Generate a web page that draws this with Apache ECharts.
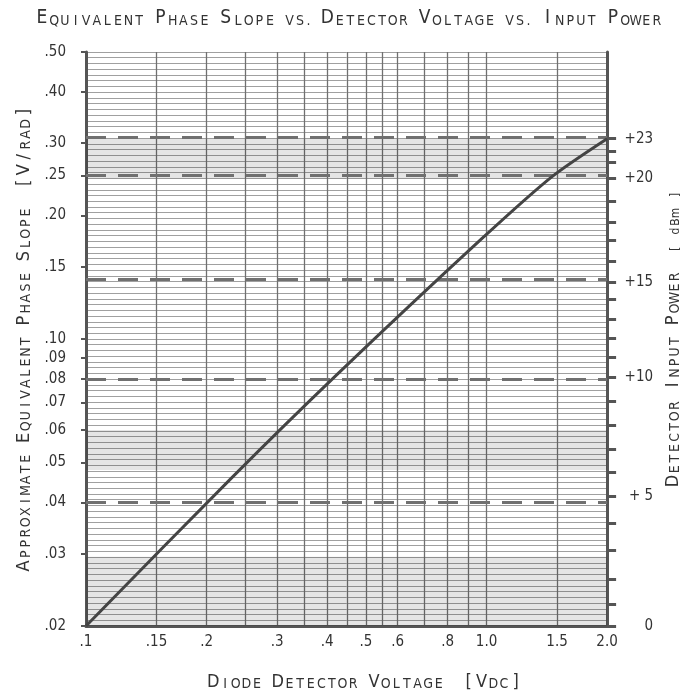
<!DOCTYPE html>
<html><head><meta charset="utf-8">
<script src="https://cdn.jsdelivr.net/npm/echarts@6/dist/echarts.min.js"></script>
<style>html,body{margin:0;padding:0;background:#fff}#c{width:690px;height:696px}</style>
</head><body><div id="c"></div>
<script>
// ---- data ----
const xTickValues = [0.1, 0.15, 0.2, 0.3, 0.4, 0.5, 0.6, 0.8, 1.0, 1.5, 2.0];
const xTickLabels = ['.1', '.15', '.2', '.3', '.4', '.5', '.6', '.8', '1.0', '1.5', '2.0'];
const xGridValues = [0.1, 0.15, 0.2, 0.25, 0.3, 0.35, 0.4, 0.45, 0.5, 0.55, 0.6, 0.7, 0.8, 0.9, 1.0, 1.5, 2.0];
const yTickValues = [0.02, 0.03, 0.04, 0.05, 0.06, 0.07, 0.08, 0.09, 0.10, 0.15, 0.20, 0.25, 0.30, 0.40, 0.50];
const yTickLabels = ['.02', '.03', '.04', '.05', '.06', '.07', '.08', '.09', '.10', '.15', '.20', '.25', '.30', '.40', '.50'];
const dbmValues = [0, 1, 2, 3, 4, 5, 6, 7, 8, 9, 10, 11, 12, 13, 14, 15, 16, 17, 18, 19, 20, 21, 22, 23];
const dbmSlope = [0.0200, 0.0226, 0.0260, 0.0306, 0.0356, 0.0414, 0.0473, 0.0538, 0.0615, 0.0707, 0.0809, 0.0905,
                  0.1006, 0.1118, 0.1251, 0.1376, 0.1547, 0.1739, 0.1923, 0.2162, 0.2460, 0.2690, 0.2860, 0.3076];
const dbmLabelled = [0, 5, 10, 15, 20, 23];
const dbmLabels = ['0', '+ 5', '+10', '+15', '+20', '+23'];
const dashedDbm = [5, 10, 15, 20, 23];
const curveVoltage = [0.1, 0.23, 0.425, 0.97, 1.46, 2.0];
const curveSlope = [0.02, 0.0457, 0.0822, 0.175, 0.249, 0.3076];
const shadedBands = [[0.246, 0.3076], [0.048, 0.060], [0.020, 0.0295]];

// ---- helpers ----
const FONT = "'DejaVu Sans Condensed','Liberation Sans Narrow',sans-serif";
// small-caps lettering: one token per character so the lettering keeps its wide, even spacing
function lettering(text) {
  let out = '';
  for (const ch of text) {
    if (ch === ' ') out += '{w| }';
    else if (ch === '.') out += '{p|.}';
    else if (/[A-Z\[\]\/]/.test(ch)) out += '{b|' + ch + '}';
    else out += '{s|' + ch.toUpperCase() + '}';
  }
  return out;
}
function plain(text, style) {
  let out = '';
  for (const ch of text) out += '{' + style + '|' + ch + '}';
  return out;
}
function letterStyle(big, small, advB, advS, advW) {
  const lh = big + 4;
  return {
    b: { fontSize: big, fontFamily: FONT, color: '#333', width: advB, align: 'center', lineHeight: lh, verticalAlign: 'bottom' },
    s: { fontSize: small, fontFamily: FONT, color: '#333', width: advS, align: 'center', lineHeight: lh, verticalAlign: 'bottom' },
    p: { fontSize: small, fontFamily: FONT, color: '#333', width: 6, align: 'center', lineHeight: lh, verticalAlign: 'bottom' },
    w: { fontSize: small, fontFamily: FONT, width: advW, lineHeight: lh, verticalAlign: 'bottom' },
    m: { fontSize: 12, fontFamily: FONT, color: '#333', width: 9, align: 'center', lineHeight: lh, verticalAlign: 'bottom' }
  };
}
function nearestLabel(v, vals, labels) {
  let best = 0, bd = Infinity;
  vals.forEach((x, i) => { const d = Math.abs(Math.log(v) - Math.log(x)); if (d < bd) { bd = d; best = i; } });
  return labels[best];
}

const chart = echarts.init(document.getElementById('c'), null, { renderer: 'canvas' });
const labelStyle = { fontFamily: FONT, fontSize: 15, color: '#333' };
const labelledSlopes = dbmLabelled.map(d => dbmSlope[d]);

const option = {
  animation: false,
  backgroundColor: '#fff',
  title: {
    text: lettering('Equivalent Phase Slope vs. Detector Voltage vs. Input Power'),
    left: 30, top: 0,
    textStyle: { fontWeight: 'normal', rich: letterStyle(19, 14, 14, 10.6, 9) }
  },
  grid: { left: 86, right: 78, top: 52, bottom: 68 },
  xAxis: [{
    type: 'log', logBase: 10, min: 0.1, max: 2.0,
    axisLine: { show: true, lineStyle: { color: '#555', width: 3 } },
    axisTick: { show: false, customValues: xGridValues },
    axisLabel: { customValues: xTickValues, margin: 9, ...labelStyle,
      formatter: v => nearestLabel(v, xTickValues, xTickLabels) },
    splitLine: { show: true, lineStyle: { color: '#707070', width: 1.3 } },
    name: lettering('Diode Detector Voltage') + '{w| }{w| }' + lettering('[Vdc]'),
    nameLocation: 'middle', nameGap: 43,
    nameTextStyle: { rich: letterStyle(18, 14, 13, 10.6, 9), padding: [0, 0, 0, 36] }
  }],
  yAxis: [{
    type: 'log', logBase: 10, min: 0.02, max: 0.5, position: 'left',
    axisLine: { show: true, lineStyle: { color: '#555', width: 3 } },
    axisTick: { show: true, customValues: yTickValues, length: 5, lineStyle: { color: '#555', width: 2 } },
    axisLabel: { customValues: yTickValues, margin: 20, ...labelStyle,
      formatter: v => nearestLabel(v, yTickValues, yTickLabels) },
    splitLine: { show: false },
    name: lettering('Approximate Equivalent Phase Slope') + '{w| }{w| }' + lettering('[V/rad]'),
    nameLocation: 'middle', nameGap: 41, nameRotate: 90,
    nameTextStyle: { rich: letterStyle(18, 14, 13, 10.6, 9) }
  }, {
    type: 'log', logBase: 10, min: 0.02, max: 0.5, position: 'right',
    axisLine: { show: true, lineStyle: { color: '#555', width: 3 } },
    axisTick: { show: true, customValues: dbmSlope, length: 9, lineStyle: { color: '#555', width: 3 } },
    axisLabel: { customValues: labelledSlopes, margin: 46, align: 'right', ...labelStyle,
      formatter: v => nearestLabel(v, labelledSlopes, dbmLabels) },
    splitLine: { show: false },
    name: lettering('Detector Input Power') + '{w| }{w| }' + plain('[ dBm ]', 'm'),
    nameLocation: 'middle', nameGap: 52, nameRotate: 90,
    nameTextStyle: { rich: letterStyle(18, 14, 13, 10.6, 9) }
  }, {
    type: 'value', min: 0, max: 100, interval: 1, position: 'left',
    axisLine: { show: false }, axisTick: { show: false }, axisLabel: { show: false },
    splitLine: { show: true, lineStyle: { color: '#a0a0a0', width: 1 } }
  }],
  series: [{
    type: 'line', xAxisIndex: 0, yAxisIndex: 0,
    data: curveVoltage.map((x, i) => [x, curveSlope[i]]),
    showSymbol: false, symbol: 'none', smooth: 0.25,
    lineStyle: { color: '#444', width: 3 },
    z: 5,
    markLine: {
      silent: true, symbol: ['none', 'none'], label: { show: false },
      lineStyle: { type: [20, 12], width: 3, color: '#707070' },
      data: dashedDbm.map(d => ({ yAxis: dbmSlope[d] }))
    },
    markArea: {
      silent: true, itemStyle: { color: 'rgba(0,0,0,0.10)' },
      data: shadedBands.map(b => [{ yAxis: b[0] }, { yAxis: b[1] }])
    }
  }]
};
chart.setOption(option);
</script></body></html>
